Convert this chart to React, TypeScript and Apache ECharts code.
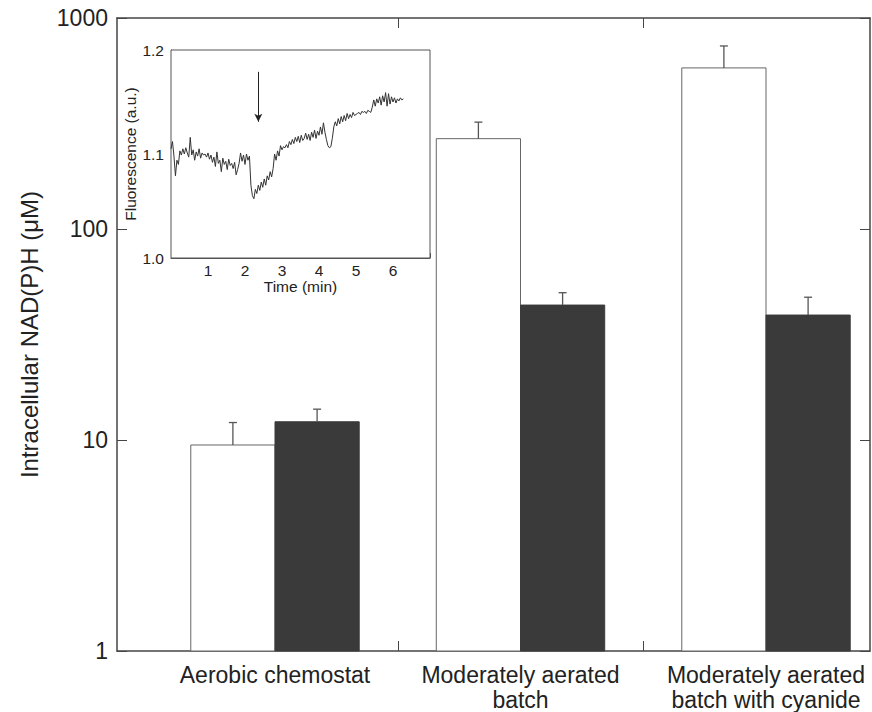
import { useEffect, useRef } from "react";
import * as echarts from "echarts";

// ---- main chart data ----
const categories = [
  "Aerobic chemostat",
  "Moderately aerated\nbatch",
  "Moderately aerated\nbatch with cyanide",
];
const categoryPositions = [1, 2, 3];
const whiteValues = [9.47, 268, 580];
const whiteErrorTops = [12.1, 321, 737];
const darkValues = [12.2, 43.6, 39.1];
const darkErrorTops = [14.0, 49.9, 47.5];
const categoryBoundaries = [1.5, 2.5];

// ---- inset trace data (fluorescence, a.u., sampled every 0.04 min) ----
const sampleInterval = 0.04;
const fluorescence = [
  1.105, 1.112, 1.098, 1.079, 1.094, 1.090, 1.103, 1.099, 1.105, 1.100,
  1.106, 1.101, 1.097, 1.116, 1.099, 1.104, 1.094, 1.102, 1.098, 1.105,
  1.096, 1.101, 1.099, 1.100, 1.097, 1.101, 1.095, 1.099, 1.092, 1.097,
  1.088, 1.102, 1.091, 1.094, 1.083, 1.096, 1.090, 1.093, 1.085, 1.095,
  1.089, 1.091, 1.086, 1.092, 1.080, 1.085, 1.091, 1.101, 1.093, 1.099,
  1.090, 1.100, 1.094, 1.098, 1.070, 1.060, 1.057, 1.066, 1.062, 1.070,
  1.065, 1.073, 1.068, 1.076, 1.070, 1.079, 1.075, 1.083, 1.078, 1.086,
  1.100, 1.094, 1.103, 1.098, 1.108, 1.104, 1.107, 1.106, 1.109, 1.106,
  1.112, 1.109, 1.114, 1.110, 1.116, 1.112, 1.117, 1.111, 1.118, 1.113,
  1.115, 1.120, 1.114, 1.119, 1.113, 1.121, 1.116, 1.123, 1.115, 1.122,
  1.118, 1.126, 1.119, 1.130, 1.121, 1.114, 1.108, 1.106, 1.107, 1.115,
  1.126, 1.131, 1.127, 1.134, 1.129, 1.136, 1.131, 1.137, 1.132, 1.139,
  1.134, 1.138, 1.135, 1.140, 1.137, 1.138, 1.139, 1.140, 1.138, 1.141,
  1.140, 1.141, 1.139, 1.142, 1.141, 1.140, 1.145, 1.152, 1.146, 1.153,
  1.149, 1.155, 1.147, 1.156, 1.150, 1.159, 1.146, 1.158, 1.148, 1.155,
  1.150, 1.154, 1.149, 1.153, 1.151, 1.154, 1.152, 1.153,
];
const arrowTime = 2.36;
const arrowFrom = 1.179;
const arrowTo = 1.131;

const FONT = "'Liberation Sans', Arial, Helvetica, sans-serif";
const FRAME = "#454545";
const BAR_HALF = 0.343;

function barSeries(
  name: string,
  values: number[],
  errs: number[],
  side: number,
  fill: string,
  stroke: string
) {
  return {
    type: "custom",
    name,
    xAxisIndex: 0,
    yAxisIndex: 0,
    clip: false,
    z: 3,
    data: categoryPositions.map((p, i) => [p, values[i], errs[i]]),
    encode: { x: 0, y: 1 },
    renderItem: (_params: any, api: any) => {
      const x = api.value(0);
      const v = api.value(1);
      const e = api.value(2);
      const a = api.coord([x, 1]);
      const b = api.coord([x + side * BAR_HALF, v]);
      const ec = api.coord([x, e]);
      const left = Math.min(a[0], b[0]);
      const w = Math.abs(b[0] - a[0]);
      const cx = (a[0] + b[0]) / 2;
      return {
        type: "group",
        children: [
          {
            type: "rect",
            shape: { x: left, y: b[1], width: w, height: a[1] - b[1] },
            style: { fill, stroke, lineWidth: 1 },
          },
          {
            type: "line",
            shape: { x1: cx, y1: b[1], x2: cx, y2: ec[1] },
            style: { stroke: "#555", lineWidth: 1.3 },
          },
          {
            type: "line",
            shape: { x1: cx - 4, y1: ec[1], x2: cx + 4, y2: ec[1] },
            style: { stroke: "#555", lineWidth: 1.3 },
          },
        ],
      };
    },
  };
}

export default function App() {
  const ref = useRef<HTMLDivElement>(null);

  useEffect(() => {
    if (!ref.current) return;
    const chart = echarts.init(ref.current, undefined, { renderer: "svg" });
    const trace = fluorescence.map((f, i) => [
      Math.round(i * sampleInterval * 100) / 100,
      f,
    ]);
    const xMin = 1 - 158 / 245.5;
    const xMax = 3 + 104 / 245.5;

    chart.setOption({
      animation: false,
      backgroundColor: "#fff",
      textStyle: { fontFamily: FONT },
      grid: [
        { left: 117, top: 18, width: 753, height: 633, show: false },
        {
          left: 171,
          top: 50,
          width: 259,
          height: 208,
          show: true,
          backgroundColor: "#fff",
          borderColor: "#555",
          borderWidth: 1,
          z: 5,
        },
      ],
      xAxis: [
        {
          type: "value",
          gridIndex: 0,
          position: "bottom",
          min: xMin,
          max: xMax,
          splitLine: { show: false },
          axisLine: { show: true, lineStyle: { color: FRAME, width: 1.5 } },
          axisTick: {
            show: true,
            inside: true,
            length: 10,
            customValues: categoryBoundaries,
            lineStyle: { color: FRAME, width: 1 },
          },
          axisLabel: {
            show: true,
            customValues: categoryPositions,
            formatter: (v: number) => categories[Math.round(v) - 1] ?? "",
            fontSize: 23,
            lineHeight: 25,
            color: "#222",
            margin: 11,
            fontFamily: FONT,
          },
        },
        {
          type: "value",
          gridIndex: 0,
          position: "top",
          min: xMin,
          max: xMax,
          splitLine: { show: false },
          axisLine: { show: true, lineStyle: { color: FRAME, width: 1.5 } },
          axisTick: {
            show: true,
            inside: true,
            length: 10,
            customValues: categoryBoundaries,
            lineStyle: { color: FRAME, width: 1 },
          },
          axisLabel: { show: false },
        },
        {
          type: "value",
          gridIndex: 1,
          min: 0,
          max: 7,
          interval: 1,
          name: "Time (min)",
          nameLocation: "middle",
          nameGap: 20,
          nameTextStyle: { fontSize: 15.5, color: "#222", fontFamily: FONT },
          splitLine: { show: false },
          axisLine: { show: true, lineStyle: { color: "#555", width: 1 } },
          axisTick: {
            show: true,
            inside: true,
            length: 5,
            lineStyle: { color: "#555" },
          },
          axisLabel: {
            fontSize: 15.5,
            color: "#222",
            margin: 4,
            fontFamily: FONT,
            formatter: (v: number) => (v === 0 || v === 7 ? "" : String(v)),
          },
        },
      ],
      yAxis: [
        {
          type: "log",
          logBase: 10,
          gridIndex: 0,
          position: "left",
          min: 1,
          max: 1000,
          name: "Intracellular NAD(P)H (\u03bcM)",
          nameLocation: "middle",
          nameGap: 76,
          nameTextStyle: { fontSize: 24, color: "#222", fontFamily: FONT },
          splitLine: { show: false },
          minorTick: { show: false },
          axisLine: { show: true, lineStyle: { color: FRAME, width: 1.5 } },
          axisTick: {
            show: true,
            inside: true,
            length: 10,
            lineStyle: { color: FRAME, width: 1 },
          },
          axisLabel: {
            fontSize: 23,
            color: "#222",
            margin: 9,
            fontFamily: FONT,
            formatter: (v: number) => String(Math.round(v)),
          },
        },
        {
          type: "log",
          logBase: 10,
          gridIndex: 0,
          position: "right",
          min: 1,
          max: 1000,
          splitLine: { show: false },
          axisLine: { show: true, lineStyle: { color: FRAME, width: 1.5 } },
          axisTick: {
            show: true,
            inside: true,
            length: 10,
            lineStyle: { color: FRAME, width: 1 },
          },
          axisLabel: { show: false },
        },
        {
          type: "value",
          gridIndex: 1,
          min: 1.0,
          max: 1.2,
          interval: 0.1,
          name: "Fluorescence (a.u.)",
          nameLocation: "middle",
          nameGap: 27,
          nameTextStyle: { fontSize: 15.5, color: "#222", fontFamily: FONT },
          splitLine: { show: false },
          axisLine: { show: true, lineStyle: { color: "#555", width: 1 } },
          axisTick: { show: false },
          axisLabel: {
            fontSize: 15.5,
            color: "#222",
            margin: 7,
            fontFamily: FONT,
            formatter: (v: number) => v.toFixed(1),
          },
        },
      ],
      series: [
        barSeries("Open bars", whiteValues, whiteErrorTops, -1, "#fff", "#666"),
        barSeries("Filled bars", darkValues, darkErrorTops, 1, "#3a3a3a", "#3a3a3a"),
        {
          type: "line",
          name: "Fluorescence",
          xAxisIndex: 2,
          yAxisIndex: 2,
          data: trace,
          showSymbol: false,
          symbol: "none",
          z: 10,
          lineStyle: { color: "#333", width: 1 },
          markLine: {
            silent: true,
            symbol: ["none", "arrow"],
            symbolSize: [6, 8],
            label: { show: false },
            lineStyle: { color: "#222", width: 1, type: "solid" },
            data: [
              [
                { coord: [arrowTime, arrowFrom] },
                { coord: [arrowTime, arrowTo] },
              ],
            ],
          },
        },
      ],
    });

    return () => chart.dispose();
  }, []);

  return (
    <div
      ref={ref}
      style={{ position: "fixed", left: 0, top: 0, width: 872, height: 712 }}
    />
  );
}
